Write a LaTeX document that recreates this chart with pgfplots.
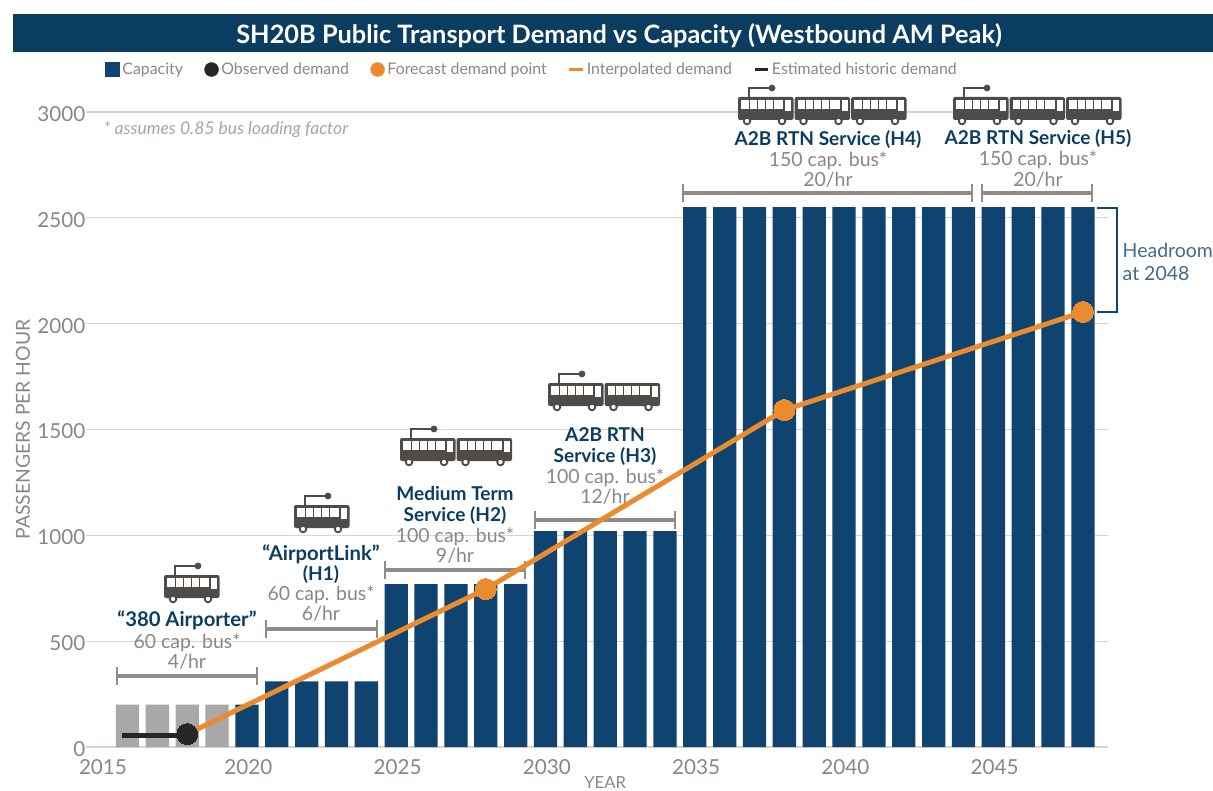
\documentclass[border=0pt]{standalone}
\usepackage{fontspec}
\setmainfont{Lato}
\usepackage{pgfplots}
\usepackage{pgfplotstable}
\pgfplotsset{compat=1.18}
\definecolor{navy}{HTML}{0F4470}
\definecolor{band}{HTML}{0B3D61}
\definecolor{hist}{HTML}{A9A7A8}
\definecolor{orangeline}{HTML}{E98B2E}
\definecolor{blackpt}{HTML}{262626}
\definecolor{txtgray}{HTML}{8B8683}
\definecolor{gridc}{HTML}{DAD4CF}
\definecolor{barc}{HTML}{8F8B8B}
\definecolor{busc}{HTML}{4E4B49}
\definecolor{headc}{HTML}{3F6B8C}

% capacity bars
\pgfplotstableread{
year cap
2020 200
2021 310
2022 310
2023 310
2024 310
2025 770
2026 770
2027 770
2028 770
2029 770
2030 1020
2031 1020
2032 1020
2033 1020
2034 1020
2035 2550
2036 2550
2037 2550
2038 2550
2039 2550
2040 2550
2041 2550
2042 2550
2043 2550
2044 2550
2045 2550
2046 2550
2047 2550
2048 2550
}\capacity
\pgfplotstableread{
year cap
2016 200
2017 200
2018 200
2019 200
}\historic

\pgfplotsset{
  frame/.style={
    scale only axis, width=766.5pt, height=476.25pt,
    at={(64.5pt,-560.25pt)}, anchor=south west,
    xmin=2014.61, xmax=2048.84, ymin=0, ymax=3000,
    clip=false, axis line style={draw=none}, tick style={draw=none},
  },
}

\newcommand\bus[2]{%
  \begin{scope}[shift={(#1,#2)}]
    \fill[busc, rounded corners=1.5pt] (0,0) rectangle (55.5,23);
    \fill[white] (3,3) rectangle (45,12);
    \fill[white] (47,3) rectangle (53,14);
    \foreach \k in {11,19,27,35} \draw[busc, line width=0.7pt] (\k,3) -- (\k,12);
    \foreach \k in {9,44} \filldraw[fill=white, draw=busc, line width=1.4pt] (\k,24) circle (3.3);
  \end{scope}}
\newcommand\pole[2]{%
  \draw[busc, line width=0.9pt] (#1+11,#2) -- (#1+11,#2-9) -- (#1+33,#2-9);
  \fill[busc] (#1+34,#2-9) circle (3.4);}
\newcommand\head[3]{\node[anchor=base, text=band, font=\bfseries\fontsize{14.3}{16}\selectfont] at (#1,#2+7) {#3};}
\newcommand\qhead[3]{\node[anchor=base, text=band, font=\bfseries\fontsize{15.2}{17}\selectfont] at (#1,#2+7) {#3};}
\newcommand\body[3]{\node[anchor=base, text=txtgray, font=\fontsize{14.6}{17}\selectfont] at (#1,#2+7) {#3};}
\newcommand\brk[3]{%
  \draw[barc, line width=2.6pt] (#1,#3) -- (#2,#3);
  \draw[barc, line width=1.8pt] (#1,#3-9) -- (#1,#3+9);
  \draw[barc, line width=1.8pt] (#2,#3-9) -- (#2,#3+9);}

\begin{document}
\begin{tikzpicture}[x=0.75pt, y=-0.75pt]
\useasboundingbox (0,0) rectangle (1213,791);

\fill[band] (13,14) rectangle (1213,52);
\node[text=white, font=\bfseries\fontsize{19}{21}\selectfont] at (619,35.5) {SH20B Public Transport Demand vs Capacity (Westbound AM Peak)};

% grid and bars
\begin{axis}[
  frame,
  ymajorgrids, grid style={gridc, line width=1pt},
  ytick={0,500,...,3000},
  xtick={2015,2020,2025,2030,2035,2040,2045},
  xticklabels={\hspace*{6pt}2015,2020,2025,2030,2035,2040,2045},
  /pgf/number format/assume math mode=true,
  /pgf/number format/1000 sep={},
  tick label style={text=txtgray, inner sep=0pt, font=\fontsize{15.5}{17}\selectfont},
  yticklabel style={yshift=-1.5pt, xshift=-0.3pt},
  xticklabel style={xshift=1pt, yshift=-5.2pt},
  ylabel={PASSENGERS PER HOUR},
  ylabel style={at={(axis description cs:-0.0616,0.5)}, anchor=center, text=txtgray, font=\fontsize{14.5}{16}\selectfont},
  xlabel={YEAR},
  xlabel style={at={(axis description cs:0.508,-0.056)}, anchor=center, text=txtgray, inner sep=0pt, font=\fontsize{12.5}{14}\selectfont},
  ybar, bar shift=0pt, bar width=0.78,
]
\addplot[fill=hist, draw=none] table[x=year, y=cap] {\historic};
\addplot[fill=navy, draw=none] table[x=year, y=cap] {\capacity};
\end{axis}

% service annotations
\brk{117}{257}{676}
\brk{266}{377}{629}
\brk{385}{525}{570}
\brk{535}{675}{520}
\brk{683}{972}{193}
\brk{982}{1092}{193}

\pole{164}{575}\bus{164}{575}
\pole{294}{505}\bus{294}{505}
\pole{400}{438}\bus{400}{438}\bus{456.5}{438}
\pole{548}{383}\bus{548}{383}\bus{604.5}{383}
\pole{738}{97}\bus{738}{97}\bus{794.5}{97}\bus{851}{97}
\pole{953}{97}\bus{953}{97}\bus{1009.5}{97}\bus{1066}{97}

\qhead{187}{619}{“380 Airporter”}
\body{187}{641}{60 cap. bus*}
\body{187}{661}{4/hr}
\qhead{321}{553}{“AirportLink”}
\head{321}{573}{(H1)}
\body{321}{593}{60 cap. bus*}
\body{321}{613}{6/hr}
\head{455}{493}{Medium Term}
\head{455}{514}{Service (H2)}
\body{455}{535}{100 cap. bus*}
\body{455}{555}{9/hr}
\head{605}{434}{A2B RTN}
\head{605}{455}{Service (H3)}
\body{605}{476}{100 cap. bus*}
\body{605}{496}{12/hr}
\head{828}{139}{A2B RTN Service (H4)}
\body{828}{160}{150 cap. bus*}
\body{828}{180}{20/hr}
\head{1038}{138}{A2B RTN Service (H5)}
\body{1038}{159}{150 cap. bus*}
\body{1038}{180}{20/hr}

\node[anchor=base west, text=txtgray!75, font=\itshape\fontsize{13.1}{15}\selectfont] at (99,135) {* assumes 0.85 bus loading factor};

\draw[navy, line width=1.5pt] (1097,208) -- (1117,208) -- (1117,312) -- (1097,312);
\node[anchor=base west, text=headc, font=\fontsize{14.6}{16}\selectfont] at (1118,258) {Headroom};
\node[anchor=base west, text=headc, font=\fontsize{14.6}{16}\selectfont] at (1118,281) {at 2048};

% demand lines, points and legend
\begin{axis}[
  frame, hide axis,
  legend style={at={(0.0186,1.0669)}, anchor=west, draw=none, fill=none, inner sep=0pt,
    legend columns=5, font=\fontsize{11.9}{14}\selectfont, text=txtgray},
  legend cell align=left,
]
\addlegendimage{legend image code/.code={\fill[navy] (0pt,-5pt) rectangle (10.5pt,5.5pt);}}
\addlegendentry{Capacity\rule{14pt}{0pt}}
\addlegendimage{legend image code/.code={\fill[blackpt] (5pt,0pt) circle (5.2pt);}}
\addlegendentry{Observed demand\rule{14pt}{0pt}}
\addlegendimage{legend image code/.code={\fill[orangeline] (5pt,0pt) circle (5.2pt);}}
\addlegendentry{Forecast demand point\rule{14pt}{0pt}}
\addlegendimage{legend image code/.code={\draw[orangeline, line width=2pt] (0pt,0pt) -- (10pt,0pt);}}
\addlegendentry{Interpolated demand\rule{14pt}{0pt}}
\addlegendimage{legend image code/.code={\draw[blackpt, line width=2pt] (0pt,0pt) -- (10pt,0pt);}}
\addlegendentry{Estimated historic demand}

\addplot[forget plot, orangeline, line width=3.75pt] coordinates {(2018,61) (2028,746) (2038,1592) (2048,2055)};
\addplot[forget plot, blackpt, line width=3.75pt] coordinates {(2015.8,54) (2018,54)};
\addplot[forget plot, orangeline, only marks, mark=*, mark size=7.9pt, mark options={fill=orangeline, draw=orangeline, line width=0pt}] coordinates {(2028,746) (2038,1592) (2048,2055)};
\addplot[forget plot, blackpt, only marks, mark=*, mark size=7.9pt, mark options={fill=blackpt, draw=blackpt, line width=0pt}] coordinates {(2018,61)};
\end{axis}
\end{tikzpicture}
\end{document}
